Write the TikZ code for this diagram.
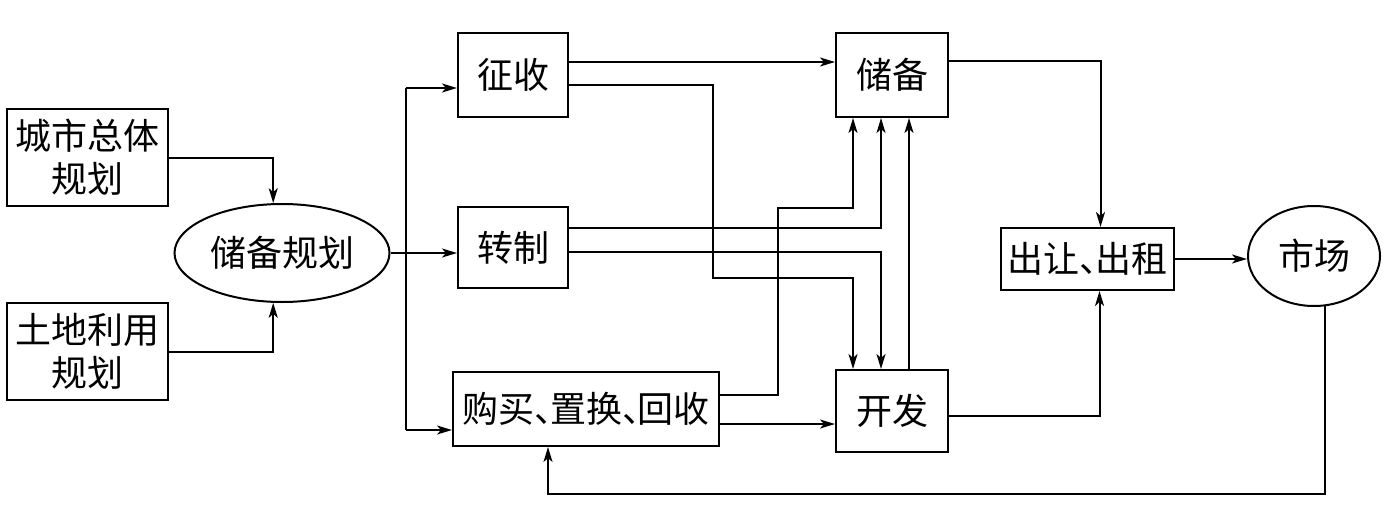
\documentclass[tikz,border=0pt]{standalone}
\usepackage{fontspec}
\newfontfamily\cjk{Noto Sans CJK SC}
\usetikzlibrary{arrows.meta,shapes.geometric,calc}
\newcommand\dun{\makebox[0.42em][l]{、}}
\begin{document}
\begin{tikzpicture}[x=1pt,y=-1pt,
  every node/.style={font=\cjk\fontsize{36}{43}\selectfont},
  box/.style={draw,line width=2pt,rectangle,inner sep=0pt,align=center},
  oval/.style={draw,line width=2pt,ellipse,inner sep=0pt},
  arr/.style={line width=2pt,-{Stealth[length=15pt,width=9pt,inset=4pt]}},
  ln/.style={line width=2pt}]
\useasboundingbox (0,0) rectangle (1396,527);
\node[box,minimum width=161pt,minimum height=97pt] (cs) at (87.5,157.5) {城市总体\\规划};
\node[box,minimum width=161pt,minimum height=97pt] (td) at (87.5,351.5) {土地利用\\规划};
\node[oval,minimum width=215pt,minimum height=98pt] (cbgh) at (282,253) {储备规划};
\node[box,minimum width=110pt,minimum height=84pt] (zs) at (513,75) {征收};
\node[box,minimum width=110pt,minimum height=81pt] (zz) at (513,247.5) {转制};
\node[box,minimum width=266pt,minimum height=74pt] (gm) at (586,409) {购买\dun 置换\dun 回收};
\node[box,minimum width=112pt,minimum height=84pt] (cb) at (892,75) {储备};
\node[box,minimum width=112pt,minimum height=82pt] (kf) at (892,411) {开发};
\node[box,minimum width=173pt,minimum height=62pt] (cr) at (1087.5,259) {出让\dun 出租};
\node[oval,minimum width=132pt,minimum height=100pt] (sc) at (1314,256) {市场};
\coordinate (br) at (407,253);
\coordinate (p1) at (713,278);
\coordinate (p2) at (778,208);
% left inputs
\draw[arr] (cs.east) -| (cbgh.100);
\draw[arr] (td.east) -| (cbgh.260);
% distribution
\draw[arr] (cbgh.east) -- (cbgh.east -| zz.west);
\draw[ln] ($(zs.west)+(-51,13)$) coordinate (a1) -- ($(gm.west)+(-46,21)$) coordinate (a2);
\draw[arr] (a1) -- (a1 -| zs.west);
\draw[arr] (a2) -- (a2 -| gm.west);
% zs
\draw[arr] ($(zs.east)+(0,-13)$) coordinate (b1) -- (b1 -| cb.west);
\draw[arr] ($(zs.east)+(0,10)$) -| (p1) -| ($(kf.north)+(-39,0)$);
% zz
\draw[arr] ($(zz.east)+(0,-19.5)$) -| ($(cb.south)+(-11,0)$);
\draw[arr] ($(zz.east)+(0,4.5)$) -| ($(kf.north)+(-11,0)$);
% gm
\draw[arr] ($(gm.east)+(0,-14)$) -| (p2) -| ($(cb.south)+(-39,0)$);
\draw[arr] ($(gm.east)+(0,15)$) coordinate (c1) -- (c1 -| kf.west);
% kf -> cb
\draw[arr] ($(kf.north)+(17,0)$) -- ($(cb.south)+(17,0)$);
% to cr
\draw[arr] ($(cb.east)+(0,-14)$) -| ($(cr.north)+(13,0)$);
\draw[arr] ($(kf.east)+(0,5)$) -| ($(cr.south)+(12,0)$);
\draw[arr] (cr.east) -- (cr.east -| sc.west);
% feedback
\draw[arr] (sc.282) |- ($(gm.south)+(-38,47)$) -- ($(gm.south)+(-38,0)$);
\end{tikzpicture}
\end{document}
